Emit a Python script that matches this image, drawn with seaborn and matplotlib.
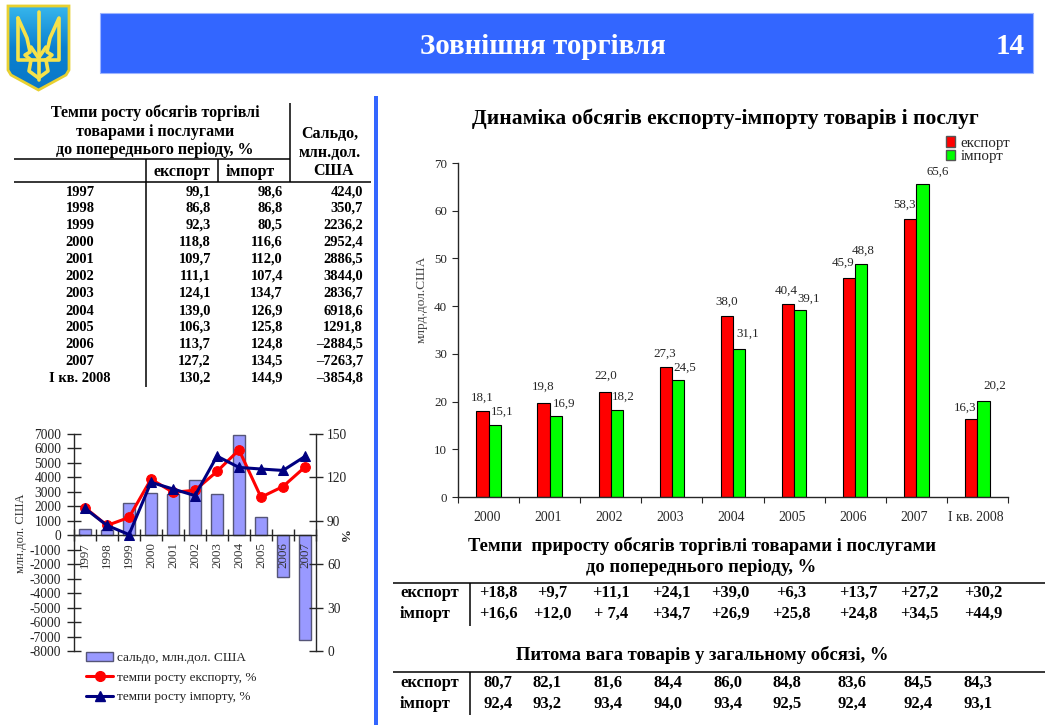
#%%
# Foreign trade slide: growth table, balance chart, export/import bars, small tables

import numpy as np
import pandas as pd
import seaborn as sns
import matplotlib.pyplot as plt
from matplotlib.colors import LinearSegmentedColormap
from matplotlib.lines import Line2D
from matplotlib.patches import Patch, Polygon, Rectangle

# data: table on the left
table_years = ["1997", "1998", "1999", "2000", "2001", "2002", "2003", "2004",
               "2005", "2006", "2007", "I кв. 2008"]
table_export = ["99,1", "86,8", "92,3", "118,8", "109,7", "111,1", "124,1", "139,0",
                "106,3", "113,7", "127,2", "130,2"]
table_import = ["98,6", "86,8", "80,5", "116,6", "112,0", "107,4", "134,7", "126,9",
                "125,8", "124,8", "134,5", "144,9"]
table_saldo = ["424,0", "350,7", "2236,2", "2952,4", "2886,5", "3844,0", "2836,7", "6918,6",
               "1291,8", "–2884,5", "–7263,7", "–3854,8"]

# data: balance chart
saldo_years = ["1997", "1998", "1999", "2000", "2001", "2002", "2003", "2004", "2005", "2006", "2007"]
saldo = [424.0, 350.7, 2236.2, 2952.4, 2886.5, 3844.0, 2836.7, 6918.6, 1291.8, -2884.5, -7263.7]
growth_export = [99.1, 86.8, 92.3, 118.8, 109.7, 111.1, 124.1, 139.0, 106.3, 113.7, 127.2]
growth_import = [98.6, 86.8, 80.5, 116.6, 112.0, 107.4, 134.7, 126.9, 125.8, 124.8, 134.5]

# data: export and import volumes
periods = ["2000", "2001", "2002", "2003", "2004", "2005", "2006", "2007", "I кв. 2008"]
volume_export = [18.1, 19.8, 22.0, 27.3, 38.0, 40.4, 45.9, 58.3, 16.3]
volume_import = [15.1, 16.9, 18.2, 24.5, 31.1, 39.1, 48.8, 65.6, 20.2]

# data: small tables at the bottom
delta_export = ["+18,8", "+9,7", "+11,1", "+24,1", "+39,0", "+6,3", "+13,7", "+27,2", "+30,2"]
delta_import = ["+16,6", "+12,0", "+ 7,4", "+34,7", "+26,9", "+25,8", "+24,8", "+34,5", "+44,9"]
share_export = ["80,7", "82,1", "81,6", "84,4", "86,0", "84,8", "83,6", "84,5", "84,3"]
share_import = ["92,4", "93,2", "93,4", "94,0", "93,4", "92,5", "92,4", "92,4", "93,1"]

# label offsets in pixels from the top of each group, the original moves them by hand
export_dx = [-6, -6, -5.5, -7.5, -6, -7.5, -12.6, -12, -12]
export_dy = [12.6, 15.5, 16, 13, 14, 13, 15, 14, 11]
import_dx = [14, 14.5, 12.5, 12.5, 14.5, 15, 7.5, 21.6, 17]
import_dy = [13, 13, 13, 12, 14.6, 11.5, 13, 12, 14.6]

W, H = 1045, 725
SERIF = ["Liberation Serif", "DejaVu Serif"]
BLUE = "#3366ff"

sns.set_theme(style="white")
plt.rcParams["font.family"] = SERIF
plt.rcParams["axes.linewidth"] = 1.0
plt.rcParams["axes.unicode_minus"] = False

fig = plt.figure(figsize=(W / 100, H / 100), dpi=100, facecolor="white")


def px(size):
    return size * 0.72


def axes_at(left, top, right, bottom):
    return fig.add_axes([left / W, 1 - bottom / H, (right - left) / W, (bottom - top) / H])


# overlay in pixel coordinates for the slide furniture and tables
bg = fig.add_axes([0, 0, 1, 1])
bg.set_xlim(0, W)
bg.set_ylim(H, 0)
bg.axis("off")


def put(x, y, s, size=14, bold=True, ha="center", color="black", **kw):
    bg.text(x, y, s, fontsize=px(size), fontweight="bold" if bold else "normal",
            ha=ha, va="center", color=color, **kw)


def rule(x0, y0, x1, y1, lw=1.1):
    bg.plot([x0, x1], [y0, y1], color="black", lw=lw, solid_capstyle="butt")


# banner
bg.add_patch(Rectangle((100, 13), 933, 60, facecolor=BLUE, edgecolor="#9db4ff", lw=0.8))
put(543, 46, "Зовнішня торгівля", size=29, color="white")
put(1010, 46, "14", size=29, color="white")
bg.add_patch(Rectangle((374, 96), 3.5, 629, facecolor=BLUE, edgecolor="none"))

# coat of arms
shield = [(8, 6), (69, 6), (69, 70), (66, 75), (38.5, 90), (11, 75), (8, 70)]
grad = np.linspace(0, 1, 80).reshape(-1, 1)
im = bg.imshow(grad, extent=(8, 69, 90, 6), aspect="auto", zorder=1,
               cmap=LinearSegmentedColormap.from_list("sh", ["#37b6ec", "#0a80d0", "#0a78c8"]))
patch = Polygon(shield, closed=True, facecolor="none", edgecolor="#e8d030", lw=2.0, zorder=3)
bg.add_patch(patch)
im.set_clip_path(patch)
bg.set_xlim(0, W)
bg.set_ylim(H, 0)
trident = [
    [(38.5, 12), (38.5, 80)],
    [(18, 18), (18, 60), (59, 60), (59, 18), (50, 38), (47, 52), (52, 55), (46, 60)],
    [(18, 18), (27, 38), (30, 52), (25, 55), (31, 60)],
    [(31, 60), (29, 71), (38.5, 78), (48, 71), (46, 60)],
    [(31, 47), (38.5, 58), (46, 47)],
]
for part in trident:
    xs, ys = zip(*part)
    bg.plot(xs, ys, color="#f6e24a", lw=2.6, zorder=4, solid_joinstyle="round")

# table with growth rates
put(155, 113, "Темпи росту обсягів торгівлі", size=16)
put(155, 132, "товарами і послугами", size=16)
put(155, 150, "до попереднього періоду, %", size=16)
put(330, 134, "Сальдо,", size=16)
put(330, 153, "млн.дол.", size=16)
put(333, 171, "США", size=16)
put(182, 172, "експорт", size=16)
put(250, 172, "імпорт", size=16)
rule(14, 159, 290, 159)
rule(14, 182, 371, 182)
rule(146, 159, 146, 387)
rule(218, 159, 218, 182)
rule(290, 103, 290, 182)
row_y = [192, 208, 225, 242, 259, 276, 293, 311, 327, 344, 361, 378]
for y, year, e, i, s in zip(row_y, table_years, table_export, table_import, table_saldo):
    put(80, y, year, size=14.5)
    put(211, y, e, size=14.5, ha="right")
    put(283, y, i, size=14.5, ha="right")
    put(363, y, s, size=14.5, ha="right")

# small tables at the bottom
put(702, 546, "Темпи  приросту обсягів торгівлі товарами і послугами", size=18.7)
put(701, 567, "до попереднього періоду, %", size=18.7)
put(702, 655, "Питома вага товарів у загальному обсязі, %", size=18.7)
rule(393, 583, W, 583)
rule(470, 583, 470, 626)
rule(393, 672, W, 672)
rule(470, 672, 470, 715)
delta_x = [498, 552, 611, 671.5, 730, 791, 858, 919.4, 983]
share_x = [498, 547, 608, 668, 727.5, 787, 852.5, 918, 978]
for y, name, vals, xs in [(593, "експорт", delta_export, delta_x),
                          (614, "імпорт", delta_import, delta_x),
                          (683, "експорт", share_export, share_x),
                          (704, "імпорт", share_import, share_x)]:
    put(400, y, name, size=16.5, ha="left")
    for x, v in zip(xs, vals):
        put(x, y, v, size=16.5)

# export and import bars
put(725, 119, "Динаміка обсягів експорту-імпорту товарів і послуг", size=21.5)
vol = pd.DataFrame({"period": periods * 2,
                    "value": volume_export + volume_import,
                    "kind": ["експорт"] * len(periods) + ["імпорт"] * len(periods)})
ax = axes_at(458, 163, 1008, 497)
ax.patch.set_alpha(0)
sns.barplot(data=vol, x="period", y="value", hue="kind", palette=["#ff0000", "#00ff00"],
            saturation=1, width=0.4, gap=0, edgecolor="black", linewidth=0.8, legend=False, ax=ax)
ax.set_xlim(-0.5, 8.5)
ax.set_ylim(0, 70)
ax.set_yticks(range(0, 71, 10))
ax.set_xlabel("")
ax.set_ylabel("")
ax.set_xticks(np.arange(9) - 0.03, periods)
ax.set_xticks(np.arange(-0.5, 9), minor=True)
ax.tick_params(axis="x", which="major", length=0, pad=10, labelsize=px(13.7))
ax.tick_params(axis="x", which="minor", length=4, width=0.8, direction="out", bottom=True)
ax.tick_params(axis="y", length=4, width=0.8, direction="out", left=True, pad=4, labelsize=px(13))
sns.despine(ax=ax)
for i in range(len(periods)):
    ax.annotate(f"{volume_export[i]:.1f}".replace(".", ","), (i, volume_export[i]),
                xytext=(export_dx[i], export_dy[i]), textcoords="offset pixels",
                ha="center", va="center", fontsize=px(13))
    ax.annotate(f"{volume_import[i]:.1f}".replace(".", ","), (i, volume_import[i]),
                xytext=(import_dx[i], import_dy[i]), textcoords="offset pixels",
                ha="center", va="center", fontsize=px(13))
put(422, 299, "млрд.дол.США", size=13.4, bold=False, rotation=90, color="#444444")
fig.legend(handles=[Patch(facecolor="#ff0000", edgecolor="#555555", label="експорт"),
                    Patch(facecolor="#00ff00", edgecolor="#555555", label="імпорт")],
           loc="upper left", bbox_to_anchor=(946 / W, 1 - 136 / H), frameon=False,
           fontsize=px(15), handlelength=0.62, handleheight=0.7, handletextpad=0.35,
           labelspacing=0.0, borderpad=0, borderaxespad=0)

# balance bars with growth lines on the second axis
left = axes_at(74, 434, 316, 651)
left.patch.set_alpha(0)
sns.barplot(x=saldo_years, y=saldo, color="#9999ff", saturation=1, width=0.58,
            edgecolor="#555577", linewidth=1.0, ax=left)
left.set_xlim(-0.5, 10.5)
left.set_ylim(-8000, 7000)
left.set_yticks(range(-8000, 7001, 1000))
left.spines["bottom"].set_position(("data", 0))
left.spines["top"].set_visible(False)
left.spines["right"].set_visible(False)
left.set_axisbelow(False)
left.set_xticks(np.arange(11), saldo_years)
left.set_xticks(np.arange(-0.5, 11), minor=True)
left.tick_params(axis="x", which="major", length=0, pad=5, labelsize=px(13), labelrotation=90,
                 labelcolor="#333333")
left.tick_params(axis="x", which="minor", length=8, width=1.0, direction="inout", bottom=True)
left.tick_params(axis="y", length=10, width=1.0, direction="inout", left=True, pad=4, labelsize=px(13.5),
                 labelcolor="#222222")

right = left.twinx()
xpos = np.arange(len(saldo_years))
sns.lineplot(x=xpos, y=growth_export, color="#ff0000", lw=2.2, marker="o", ms=7,
             markeredgecolor="#ff0000", ax=right, clip_on=False)
sns.lineplot(x=xpos, y=growth_import, color="#000080", lw=2.2, marker="^", ms=7,
             markeredgecolor="#000080", ax=right, clip_on=False)
right.set_xlim(-0.5, 10.5)
right.set_ylim(0, 150)
right.set_yticks(range(0, 151, 30))
right.spines["top"].set_visible(False)
right.spines["left"].set_visible(False)
right.spines["bottom"].set_visible(False)
right.tick_params(axis="y", length=10, width=1.0, direction="inout", right=True, pad=3, labelsize=px(13.5),
                  labelcolor="#222222")
put(21, 533, "млн.дол. США", size=12.5, bold=False, rotation=90, color="#333333")
put(343, 537, "%", size=13, bold=True, rotation=270, color="#222222")

fig.legend(handles=[Patch(facecolor="#9999ff", edgecolor="#555577", label="сальдо, млн.дол. США"),
                    Line2D([], [], color="#ff0000", lw=2.2, marker="o", ms=7, label="темпи росту експорту, %"),
                    Line2D([], [], color="#000080", lw=2.2, marker="^", ms=7, label="темпи росту імпорту, %")],
           loc="upper left", bbox_to_anchor=(86 / W, 1 - 652 / H), frameon=False,
           fontsize=px(13.25), handlelength=2.04, handletextpad=0.3, labelspacing=0.55,
           borderpad=0, borderaxespad=0, labelcolor="#222222")

fig.savefig("out.png", dpi=100)
